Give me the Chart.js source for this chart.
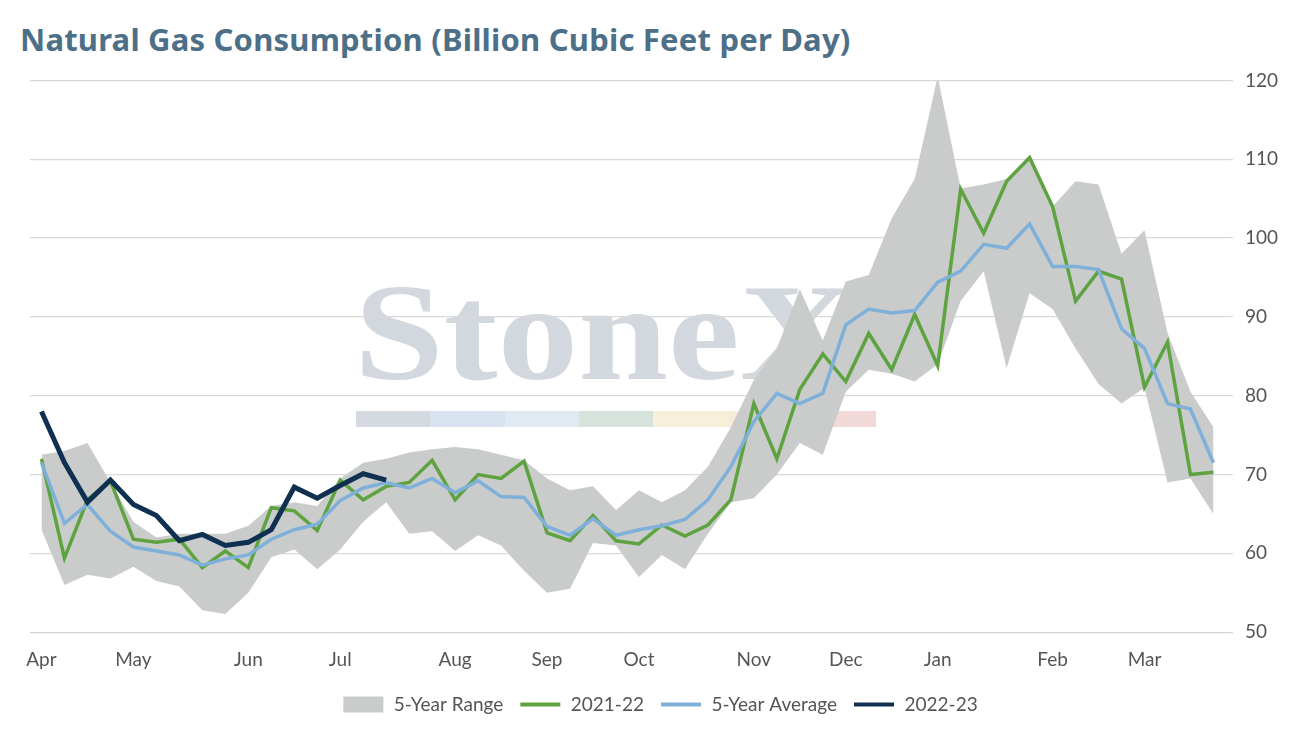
<!DOCTYPE html>
<html><head><meta charset="utf-8">
<script src="https://cdn.jsdelivr.net/npm/chart.js@4/dist/chart.umd.min.js"></script>
<style>
body{margin:0;background:#fff;font-family:Lato,"Noto Sans",sans-serif;}
#title{position:absolute;left:20px;top:18px;font-size:31px;font-weight:bold;color:#4d7088;font-family:"Noto Sans",Lato,sans-serif;letter-spacing:0.2px}
#wrap{position:absolute;left:0;top:57px;width:1302px;height:673px}
#wm{position:absolute;left:354px;top:264px;font-family:"Liberation Serif","DejaVu Serif",serif;font-size:138px;font-weight:bold;color:#d3d8de;line-height:1;transform:scaleX(1.17);transform-origin:left top}
#tm{position:absolute;left:858px;top:292px;font-size:16px;color:#d3d8de;font-weight:bold}
#bars{position:absolute;left:356px;top:411px;width:520px;height:16px;display:flex}
#bars div{flex:1}
</style></head><body>
<div id="title">Natural Gas Consumption (Billion Cubic Feet per Day)</div>
<div id="wm">StoneX</div><div id="tm">TM</div>
<div id="bars"><div style="background:#d5d9e0"></div><div style="background:#d7e3ef"></div><div style="background:#dfeaf3"></div><div style="background:#d6e3dc"></div><div style="background:#f7f1dc"></div><div style="background:#f8ecd9"></div><div style="background:#f2d9d9"></div></div>
<div id="wrap"><canvas id="c" width="1302" height="673"></canvas></div>
<script>
const monthLabels = {0:'Apr',4:'May',9:'Jun',13:'Jul',18:'Aug',22:'Sep',26:'Oct',31:'Nov',35:'Dec',39:'Jan',44:'Feb',48:'Mar'};
const weeks = Array.from({length:52},(_,i)=>i);
const s2122 = [72,59.4,66.8,69.2,61.8,61.4,61.8,58.2,60.3,58.2,65.8,65.4,62.9,69.3,66.8,68.5,69,71.8,66.8,70,69.5,71.7,62.6,61.6,64.8,61.6,61.2,63.6,62.2,63.6,66.8,79,72,80.8,85.3,81.8,87.9,83.3,90.3,83.8,106.2,100.6,107.2,110.2,104,92,95.8,94.8,81.1,86.8,70,70.3];
const avg5 = [71.5,63.8,66.2,62.8,60.8,60.3,59.8,58.5,59.3,59.8,61.8,63,63.7,66.7,68.3,69,68.3,69.5,67.7,69.2,67.2,67.1,63.4,62.3,64.4,62.3,63,63.5,64.3,66.8,71,76.7,80.3,79,80.3,89,91,90.5,90.8,94.4,95.8,99.2,98.7,101.8,96.4,96.4,96,88.5,86,79,78.3,71.5];
const s2223 = [78,71.5,66.5,69.3,66.2,64.8,61.6,62.4,61,61.4,63,68.4,67,68.6,70.1,69.3];
const rangeHi = [72.5,73,74,69,64,62,62.5,62.5,62.5,63.5,66,66.5,66,69.5,71.5,72,72.8,73.2,73.5,73.2,72.5,71.8,69.5,68,68.5,65.5,68,66.5,68,71,76,82,86,93.5,87,94.5,95.3,102.5,107.5,120.5,106.3,106.8,107.5,110,104,107.2,106.8,98,101,88,80.5,76];
const rangeLo = [63,56,57.3,56.8,58.3,56.5,55.8,52.8,52.3,55,59.5,60.5,58,60.5,64,66.5,62.5,62.8,60.3,62.3,61,57.8,55,55.5,61.3,61,57,59.8,58,62.5,66.5,67,70,74,72.5,80.5,83.3,82.8,81.8,84,92,95.8,83.5,93,91,86,81.5,79,81,69,69.5,65];
const yTicks = [50,60,70,80,90,100,110,120];

function sym(color, isRect){
  const c=document.createElement('canvas'); c.width=42; c.height=18;
  const g=c.getContext('2d'); g.fillStyle=color;
  if(isRect) g.fillRect(1,1,40,16); else g.fillRect(1,7,40,4);
  return c;
}

new Chart(document.getElementById('c'),{
 type:'line',
 data:{labels:weeks,datasets:[
  {label:'5-Year Range',data:rangeHi,fill:'+1',backgroundColor:'#c9cccb',borderWidth:0,pointRadius:0,order:10,tension:0},
  {label:'_lo',data:rangeLo,fill:false,borderWidth:0,pointRadius:0,order:11,backgroundColor:'#c9cccb'},
  {label:'2021-22',data:s2122,borderColor:'#5ea33f',backgroundColor:'#5ea33f',borderWidth:3.5,pointRadius:0,order:3,fill:false},
  {label:'5-Year Average',data:avg5,borderColor:'#7eb0da',backgroundColor:'#7eb0da',borderWidth:3.5,pointRadius:0,order:2,fill:false},
  {label:'2022-23',data:s2223,borderColor:'#0f3050',backgroundColor:'#0f3050',borderWidth:5,pointRadius:0,order:1,fill:false}
 ]},
 options:{responsive:false,animation:false,devicePixelRatio:1,
  layout:{padding:{left:30,right:12,top:0,bottom:6}},
  plugins:{tooltip:{enabled:false},
   legend:{position:'bottom',
    labels:{font:{size:19,family:'Lato'},color:'#555',usePointStyle:true,pointStyleWidth:42,boxHeight:18,padding:16,
     filter:i=>i.text!=='_lo',sort:(a,b)=>a.datasetIndex-b.datasetIndex,
     generateLabels:(ch)=>ch.data.datasets.map((d,i)=>({text:d.label,datasetIndex:i,pointStyle:sym(i===0?'#c9cccb':d.borderColor,i===0),fontColor:'#555',lineWidth:0}))}}},
  scales:{
   x:{offset:true,grid:{display:false},border:{color:'#d0d0d0'},
    ticks:{autoSkip:false,maxRotation:0,padding:8,font:{size:19,family:'Lato'},color:'#555',callback:(v,i)=>monthLabels[i]||''}},
   y:{position:'right',min:50,max:120,grid:{color:'#d9d9d9',lineWidth:1.2},border:{display:false},
    afterBuildTicks:ax=>{ax.ticks=yTicks.map(v=>({value:v}));},
    ticks:{font:{size:19,family:'Lato'},color:'#555',padding:12}}
  }}
});
</script></body></html>
